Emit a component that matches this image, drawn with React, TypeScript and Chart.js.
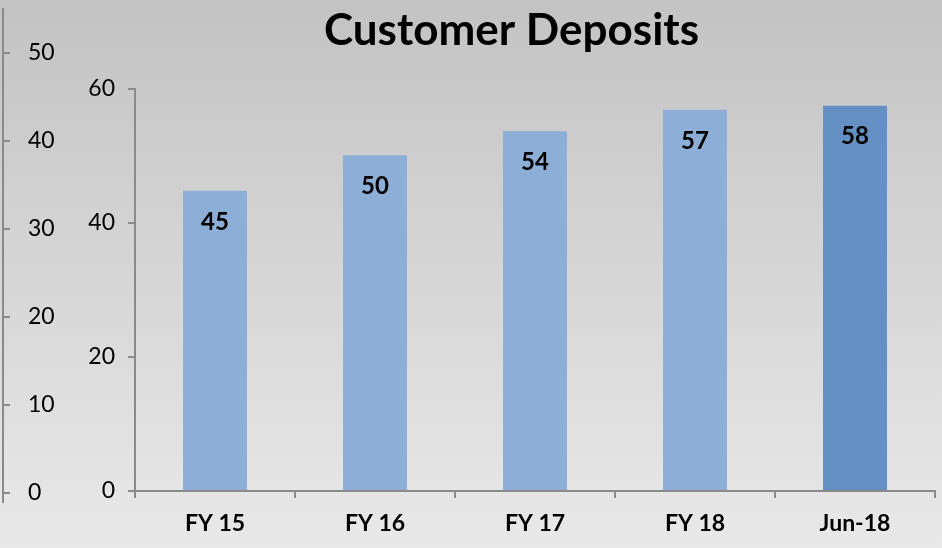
import React, { useEffect, useRef } from 'react';
import { Chart, registerables } from 'chart.js';

Chart.register(...registerables);

const categories = ['FY 15', 'FY 16', 'FY 17', 'FY 18', 'Jun-18'];
const deposits = [44.8, 50.1, 53.7, 56.9, 57.5];
const barColors = ['#8DAFD7', '#8DAFD7', '#8DAFD7', '#8DAFD7', '#6590C4'];
const innerTicks = [0, 20, 40, 60];
const outerTicks = [0, 10, 20, 30, 40, 50];
const titleText = 'Customer Deposits';

const AXIS = '#8a8a8a';
const FONT = 'Lato';

const valueLabels = {
  id: 'valueLabels',
  afterDatasetsDraw(chart: any) {
    const ctx = chart.ctx;
    const meta = chart.getDatasetMeta(0);
    ctx.save();
    ctx.font = `bold 24px ${FONT}`;
    ctx.fillStyle = '#000';
    ctx.textAlign = 'center';
    ctx.textBaseline = 'middle';
    meta.data.forEach((bar: any, i: number) => {
      ctx.fillText(String(Math.round(deposits[i])), bar.x, bar.y + 31);
    });
    ctx.restore();
  },
};

export default function App() {
  const mainRef = useRef<HTMLCanvasElement>(null);
  const outerRef = useRef<HTMLCanvasElement>(null);

  useEffect(() => {
    const main = new Chart(mainRef.current as HTMLCanvasElement, {
      type: 'bar',
      data: {
        labels: categories,
        datasets: [
          {
            data: deposits,
            backgroundColor: barColors,
            categoryPercentage: 0.8,
            barPercentage: 0.5,
          },
        ],
      },
      plugins: [valueLabels],
      options: {
        animation: false,
        responsive: false,
        layout: { padding: { left: 88, right: 7, top: 0, bottom: 0 } },
        plugins: {
          legend: { display: false },
          tooltip: { enabled: false },
          title: {
            display: true,
            text: titleText,
            color: '#000',
            font: { family: FONT, size: 44, weight: 'bold' },
            padding: { top: 4, bottom: 32.2 },
          },
        },
        scales: {
          x: {
            grid: {
              display: true,
              drawOnChartArea: false,
              drawTicks: true,
              tickLength: 7,
              color: AXIS,
              lineWidth: 2,
              offset: true,
            },
            border: { color: AXIS, width: 2 },
            ticks: {
              color: '#000',
              font: { family: FONT, size: 23, weight: 'bold' },
              padding: 12,
            },
            afterFit: (s: any) => {
              s.height = 57;
            },
          },
          y: {
            min: 0,
            max: 60,
            afterBuildTicks: (s: any) => {
              s.ticks = innerTicks.map((v) => ({ value: v }));
            },
            grid: {
              drawOnChartArea: false,
              drawTicks: true,
              tickLength: 7,
              color: AXIS,
              lineWidth: 2,
            },
            border: { color: AXIS, width: 2 },
            ticks: {
              color: '#000',
              font: { family: FONT, size: 23 },
              padding: 13,
            },
            afterFit: (s: any) => {
              s.width = 47;
            },
          },
        },
      },
    } as any);

    const outer = new Chart(outerRef.current as HTMLCanvasElement, {
      type: 'bar',
      data: { labels: [], datasets: [] },
      options: {
        animation: false,
        responsive: false,
        layout: { padding: { left: 0, right: 0, top: 9, bottom: 46 } },
        plugins: {
          legend: { display: false },
          tooltip: { enabled: false },
          title: { display: false },
        },
        scales: {
          x: { display: false },
          y: {
            position: 'left',
            min: -1.02,
            max: 55,
            afterBuildTicks: (s: any) => {
              s.ticks = outerTicks.map((v) => ({ value: v }));
            },
            grid: {
              drawOnChartArea: false,
              drawTicks: true,
              tickLength: -7,
              color: AXIS,
              lineWidth: 2,
            },
            border: { color: AXIS, width: 2 },
            ticks: {
              mirror: true,
              padding: 25,
              color: '#000',
              font: { family: FONT, size: 23 },
            },
            afterFit: (s: any) => {
              s.width = 3;
              s.paddingTop = 0;
              s.paddingBottom = 0;
            },
          },
        },
      },
    } as any);

    return () => {
      main.destroy();
      outer.destroy();
    };
  }, []);

  return (
    <div
      style={{
        position: 'fixed',
        left: 0,
        top: 0,
        width: 942,
        height: 548,
        background: 'linear-gradient(to bottom, #c3c3c3, #e9e9e9)',
      }}
    >
      <canvas
        ref={mainRef}
        width={942}
        height={548}
        style={{ position: 'absolute', left: 0, top: 0, display: 'block' }}
      />
      <canvas
        ref={outerRef}
        width={942}
        height={548}
        style={{ position: 'absolute', left: 0, top: 0, display: 'block', pointerEvents: 'none' }}
      />
    </div>
  );
}
